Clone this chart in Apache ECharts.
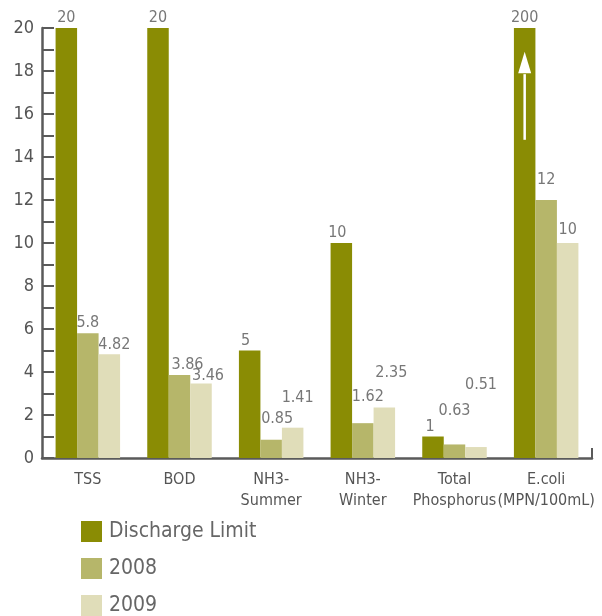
<!DOCTYPE html>
<html>
<head>
<meta charset="utf-8">
<script src="https://cdn.jsdelivr.net/npm/echarts@6/dist/echarts.min.js"></script>
<style>
    html, body { margin: 0; padding: 0; background: #fff; }
    #chart { width: 602px; height: 616px; }
</style>
</head>
<body>
<div id="chart"></div>
<script type="text/javascript">
// data
var categories = ['TSS', 'BOD', 'NH3-\nSummer', 'NH3-\nWinter', 'Total\nPhosphorus', 'E.coli\n(MPN/100mL)'];
var seriesNames = ['Discharge Limit', '2008', '2009'];
var dischargeLimit = [20, 20, 5, 10, 1, 200];
var year2008 = [5.8, 3.86, 0.85, 1.62, 0.63, 12];
var year2009 = [4.82, 3.46, 1.41, 2.35, 0.51, 10];
var yTicks = [0, 2, 4, 6, 8, 10, 12, 14, 16, 18, 20];

var colors = ['#8a8c04', '#b6b66a', '#e0ddb9'];
var fontFamily = "'Liberation Sans Narrow', 'DejaVu Sans Condensed', 'Noto Sans', sans-serif";

// label nudges [dx, dy] per series, per category (layout only)
var labelNudge = [
    [[0, 0], [0, 0], [-4, 0], [-4, 0], [-3, 0], [0, 0]],
    [[0, 0], [8, 0], [6, -11], [5, -16], [0, -24], [0, -10]],
    [[5, 0], [7, 2], [5, -20], [7, -25], [5, -52], [0, -3]]
];

function buildData(values, si) {
    return values.map(function (v, i) {
        return {
            value: v,
            label: { offset: labelNudge[si][i] }
        };
    });
}

var chart = echarts.init(document.getElementById('chart'));
var allData = [dischargeLimit, year2008, year2009];

var option = {
    animation: false,
    color: colors,
    textStyle: { fontFamily: fontFamily },
    grid: {
        left: 42,
        right: 10,
        top: 28,
        bottom: 158
    },
    legend: {
        orient: 'vertical',
        left: 81,
        top: 521,
        height: 100,
        padding: 0,
        itemWidth: 21,
        itemHeight: 21,
        itemGap: 16,
        icon: 'rect',
        data: seriesNames,
        textStyle: { fontSize: 21, color: '#666', fontFamily: fontFamily, padding: [0, 0, 0, 2] }
    },
    xAxis: {
        type: 'category',
        data: categories,
        axisLine: { lineStyle: { color: '#5a5a5a', width: 2.5 } },
        axisTick: { show: false },
        axisLabel: {
            color: '#555',
            fontSize: 16,
            lineHeight: 21,
            margin: 11,
            interval: 0,
            fontFamily: fontFamily
        }
    },
    yAxis: {
        type: 'value',
        min: yTicks[0],
        max: yTicks[yTicks.length - 1],
        interval: 2,
        axisLine: { show: true, lineStyle: { color: '#5a5a5a', width: 2.5 } },
        axisTick: { show: true, inside: true, length: 12, lineStyle: { color: '#5a5a5a', width: 2 } },
        minorTick: { show: true, splitNumber: 2, length: 12, lineStyle: { color: '#5a5a5a', width: 2 } },
        splitLine: { show: false },
        axisLabel: { color: '#555', fontSize: 18, margin: 8, fontFamily: fontFamily }
    },
    series: seriesNames.map(function (name, si) {
        return {
            name: name,
            type: 'bar',
            barWidth: 21.5,
            barGap: '0%',
            clip: true,
            data: buildData(allData[si], si),
            label: {
                show: true,
                position: 'top',
                distance: 2,
                color: '#777',
                fontSize: 16,
                fontFamily: fontFamily
            }
        };
    })
};
chart.setOption(option);

// white arrow inside the clipped E.coli limit bar, plus small tick at x axis end
var lay = chart.getModel().getSeriesByIndex(0).getData().getItemLayout(5);
var cx = lay.x + lay.width / 2;
var yTail = chart.convertToPixel({ yAxisIndex: 0 }, 14.8);
var yBase = chart.convertToPixel({ yAxisIndex: 0 }, 17.9);
var yTip = chart.convertToPixel({ yAxisIndex: 0 }, 18.9);
var y0 = chart.convertToPixel({ yAxisIndex: 0 }, 0);
chart.setOption({
    graphic: [
        {
            type: 'line',
            z: 100,
            shape: { x1: cx, y1: yTail, x2: cx, y2: yBase + 1 },
            style: { stroke: '#fff', lineWidth: 2.5 }
        },
        {
            type: 'polygon',
            z: 100,
            shape: { points: [[cx, yTip], [cx - 6.5, yBase], [cx + 6.5, yBase]] },
            style: { fill: '#fff' }
        },
        {
            type: 'line',
            z: 100,
            shape: { x1: 592, y1: y0, x2: 592, y2: y0 - 10 },
            style: { stroke: '#5a5a5a', lineWidth: 2 }
        }
    ]
});
</script>
</body>
</html>
